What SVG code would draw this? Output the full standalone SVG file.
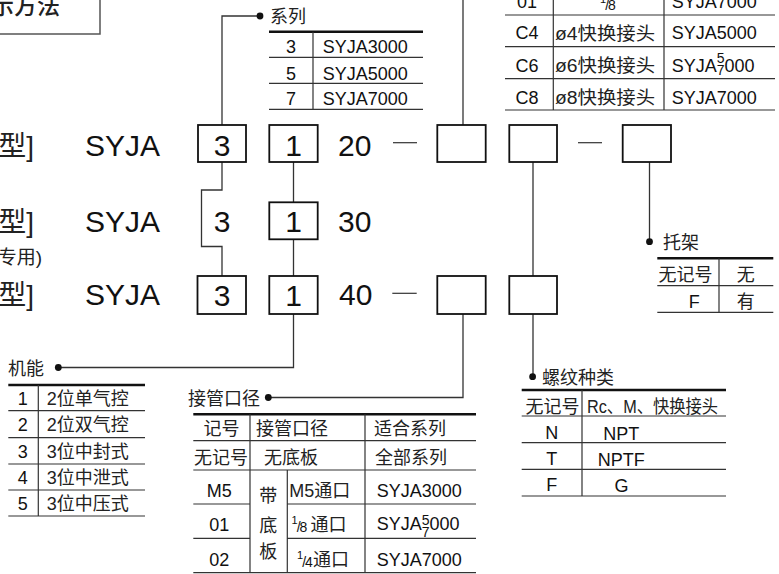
<svg xmlns="http://www.w3.org/2000/svg" width="779" height="574" viewBox="0 0 779 574">
<style>
text { font-family: "Liberation Sans", "Noto Sans CJK SC", Arial, sans-serif; fill: #111; }
.big { font-size: 30px; }
.t { font-size: 18px; }
.c { text-anchor: middle; }
.cj { fill: #222; }
.box { fill: #fff; stroke: #111; stroke-width: 1.8; }
.conn { fill: none; stroke: #333; stroke-width: 1.3; }
.thick { stroke: #111; stroke-width: 2.6; fill: none; }
.thin { stroke: #333; stroke-width: 1.2; fill: none; }
.dot { fill: #111; }
.sm { font-size: 14px; }
.num { font-size: 11px; }
</style>

<g id="title">
  <rect x="-10" y="-10" width="110" height="44" fill="none" stroke="#555" stroke-width="1.5"/>
  <text x="-9" y="14" style="font-size:23px;font-weight:500" class="cj">示方法</text>
</g>

<g id="row-labels">
  <text x="34" y="156" style="font-size:28px;text-anchor:end" class="cj">型]</text>
  <text x="34" y="232" style="font-size:28px;text-anchor:end" class="cj">型]</text>
  <text x="42" y="264" style="font-size:19px;text-anchor:end" class="cj">专用)</text>
  <text x="34" y="305" style="font-size:28px;text-anchor:end" class="cj">型]</text>
</g>

<g id="connectors">
  <path class="conn" d="M222,125 V16 H260"/>
  <circle class="dot" cx="260" cy="16" r="3.4"/>
  <path class="conn" d="M463,0 V125"/>
  <path class="conn" d="M222,162 V190 H201.5 V246.5 H222 V276"/>
  <path class="conn" d="M293.5,162 V202 M293.5,239 V276 M293.5,314 V367.5 H58"/>
  <circle class="dot" cx="58.3" cy="367.5" r="3.4"/>
  <path class="conn" d="M463,314 V397.5 H268.5"/>
  <circle class="dot" cx="268.3" cy="397.5" r="3.4"/>
  <path class="conn" d="M533,162 V276 M533,314 V376.7"/>
  <circle class="dot" cx="532.6" cy="376.7" r="3.4"/>
  <path class="conn" d="M649.5,162 V241.7"/>
  <circle class="dot" cx="649.5" cy="241.7" r="3.4"/>
</g>

<g id="row1">
  <text class="big" x="85" y="156">SYJA</text>
  <rect class="box" x="198" y="125" width="48" height="37"/>
  <text class="big c" x="222" y="155.5">3</text>
  <rect class="box" x="269.3" y="125" width="48.4" height="37"/>
  <text class="big c" x="293.5" y="155.5">1</text>
  <text class="big" x="338" y="156">20</text>
  <line class="thin" x1="393" y1="142.7" x2="417" y2="142.7"/>
  <rect class="box" x="437.3" y="125" width="48.4" height="37"/>
  <rect class="box" x="509.3" y="125" width="47.7" height="37"/>
  <line class="thin" x1="578" y1="142.7" x2="602" y2="142.7"/>
  <rect class="box" x="622.7" y="125" width="48.3" height="37"/>
</g>

<g id="row2">
  <text class="big" x="85" y="232">SYJA</text>
  <text class="big c" x="222" y="231.5">3</text>
  <rect class="box" x="269.3" y="202.3" width="48.4" height="37"/>
  <text class="big c" x="293.5" y="231.5">1</text>
  <text class="big" x="338" y="232">30</text>
</g>

<g id="row3">
  <text class="big" x="85" y="305">SYJA</text>
  <rect class="box" x="197.5" y="276" width="48.5" height="38"/>
  <text class="big c" x="222" y="305.5">3</text>
  <rect class="box" x="269.3" y="276" width="48.4" height="38"/>
  <text class="big c" x="293.5" y="305.5">1</text>
  <text class="big" x="339" y="305">40</text>
  <line class="thin" x1="392.3" y1="293.3" x2="416.7" y2="293.3"/>
  <rect class="box" x="437.3" y="276" width="48.4" height="38"/>
  <rect class="box" x="509.3" y="276" width="47.7" height="38"/>
</g>

<g id="series">
  <text class="t cj" x="270" y="23">系列</text>
  <line class="thick" x1="269" y1="31.7" x2="423" y2="31.7"/>
  <path class="thin" d="M269,57.3 H423 M269,83.3 H423 M269,109.3 H423 M313,31.7 V109.3"/>
  <text class="t c" x="291" y="53">3</text>
  <text class="t" x="322.7" y="53">SYJA3000</text>
  <text class="t c" x="291" y="79.5">5</text>
  <text class="t" x="322.7" y="79.5">SYJA5000</text>
  <text class="t c" x="291" y="105">7</text>
  <text class="t" x="322.7" y="105">SYJA7000</text>
</g>

<g id="port-quick">
  <path class="thin" d="M505,15 H775 M505,46.7 H775 M505,78.7 H775 M505,110 H775 M553.3,0 V110 M664,0 V110"/>
  <text class="t c" x="527" y="8">01</text>
  <text x="600" y="10"><tspan class="num" dy="-7">1</tspan><tspan class="sm" dx="-1" dy="7">/</tspan><tspan class="sm" dx="-1">8</tspan></text>
  <text class="t" x="671.7" y="7.5">SYJA7000</text>
  <text class="t c" x="527" y="39">C4</text>
  <text class="t cj" x="555" y="39.5" textLength="100" lengthAdjust="spacingAndGlyphs">ø4快换接头</text>
  <text class="t" x="671.7" y="39">SYJA5000</text>
  <text class="t c" x="527" y="71.5">C6</text>
  <text class="t cj" x="555" y="72" textLength="100" lengthAdjust="spacingAndGlyphs">ø6快换接头</text>
  <text class="t" x="671.7" y="71.5">SYJA<tspan class="sm" dy="-8.3">5</tspan><tspan class="sm" dx="-7.8" dy="11.8">7</tspan><tspan dy="-3.5">000</tspan></text>
  <text class="t c" x="527" y="103.5">C8</text>
  <text class="t cj" x="555" y="104" textLength="100" lengthAdjust="spacingAndGlyphs">ø8快换接头</text>
  <text class="t" x="671.7" y="103.5">SYJA7000</text>
</g>

<g id="function">
  <text class="t cj" x="8" y="375">机能</text>
  <line class="thick" x1="8.3" y1="385" x2="145" y2="385"/>
  <path class="thin" d="M8.3,410.7 H145 M8.3,437.7 H145 M8.3,464 H145 M8.3,490 H145 M8.3,516 H145 M38.3,385 V516"/>
  <text class="t c" x="22.7" y="405">1</text>
  <text class="t cj" x="46.7" y="405">2位单气控</text>
  <text class="t c" x="22.7" y="431">2</text>
  <text class="t cj" x="46.7" y="431">2位双气控</text>
  <text class="t c" x="22.7" y="457.5">3</text>
  <text class="t cj" x="46.7" y="457.5">3位中封式</text>
  <text class="t c" x="22.7" y="484">4</text>
  <text class="t cj" x="46.7" y="484">3位中泄式</text>
  <text class="t c" x="22.7" y="510">5</text>
  <text class="t cj" x="46.7" y="510">3位中压式</text>
</g>

<g id="pipe-size">
  <text class="t cj" x="188" y="405">接管口径</text>
  <line class="thick" x1="193.3" y1="414.3" x2="476" y2="414.3"/>
  <path class="thin" d="M193.3,440.7 H476 M193.3,470 H476 M193.3,572.7 H476 M193.3,504 H250 M287.3,504 H476 M193.3,538.3 H250 M287.3,538.3 H476 M250,414.3 V572.7 M365,414.3 V572.7 M287.3,470 V572.7"/>
  <text class="t cj c" x="221.5" y="434.5">记号</text>
  <text class="t cj" x="256" y="434.5">接管口径</text>
  <text class="t cj" x="374" y="434.5">适合系列</text>
  <text class="t cj c" x="221" y="464">无记号</text>
  <text class="t cj" x="264" y="464">无底板</text>
  <text class="t cj" x="375" y="464">全部系列</text>
  <text class="t c" x="219.3" y="496.5">M5</text>
  <text class="t cj" x="289.3" y="496.5">M5通口</text>
  <text class="t" x="376.7" y="496.5">SYJA3000</text>
  <text class="t cj c" x="268.3" y="501.5">带</text>
  <text class="t cj c" x="268.3" y="531.5">底</text>
  <text class="t cj c" x="268.3" y="558">板</text>
  <text class="t c" x="219.3" y="531">01</text>
  <text x="291.5" y="531.5"><tspan class="num" dy="-8">1</tspan><tspan class="sm" dx="-1" dy="8">/</tspan><tspan class="sm" dx="-1">8</tspan></text>
  <text class="t cj" x="310.5" y="531">通口</text>
  <text class="t" x="376.7" y="530">SYJA<tspan class="sm" dy="-5">5</tspan><tspan class="sm" dx="-7.8" dy="11.7">7</tspan><tspan dy="-6.7">000</tspan></text>
  <text class="t c" x="219.3" y="566">02</text>
  <text x="297" y="567"><tspan class="num" dy="-8">1</tspan><tspan class="sm" dx="-1" dy="8">/</tspan><tspan class="sm" dx="-1">4</tspan></text>
  <text class="t cj" x="313" y="566">通口</text>
  <text class="t" x="376.7" y="566">SYJA7000</text>
</g>

<g id="thread">
  <text class="t cj" x="542" y="383.5">螺纹种类</text>
  <line class="thick" x1="521.7" y1="390" x2="726" y2="390"/>
  <path class="thin" d="M521.7,416 H726 M521.7,442.7 H726 M521.7,469.3 H726 M521.7,496 H726 M582,390 V496"/>
  <text class="t cj" x="525.5" y="413">无记号</text>
  <text class="t cj" x="587" y="413" textLength="131" lengthAdjust="spacingAndGlyphs">Rc、M、快换接头</text>
  <text class="t c" x="551.7" y="438.5">N</text>
  <text class="t" x="603.3" y="440">NPT</text>
  <text class="t c" x="551.7" y="464.5">T</text>
  <text class="t" x="597.7" y="466">NPTF</text>
  <text class="t c" x="551.7" y="490.5">F</text>
  <text class="t c" x="621.5" y="491.5">G</text>
</g>

<g id="bracket">
  <text class="t cj" x="663" y="248.5">托架</text>
  <line class="thick" x1="657.3" y1="258.3" x2="773.3" y2="258.3"/>
  <path class="thin" d="M657.3,285.7 H773.3 M657.3,312.3 H773.3 M719,258.3 V312.3"/>
  <text class="t cj" x="658.5" y="281">无记号</text>
  <text class="t cj c" x="745.7" y="281">无</text>
  <text class="t c" x="694.3" y="308">F</text>
  <text class="t cj c" x="745.7" y="308">有</text>
</g>
</svg>
